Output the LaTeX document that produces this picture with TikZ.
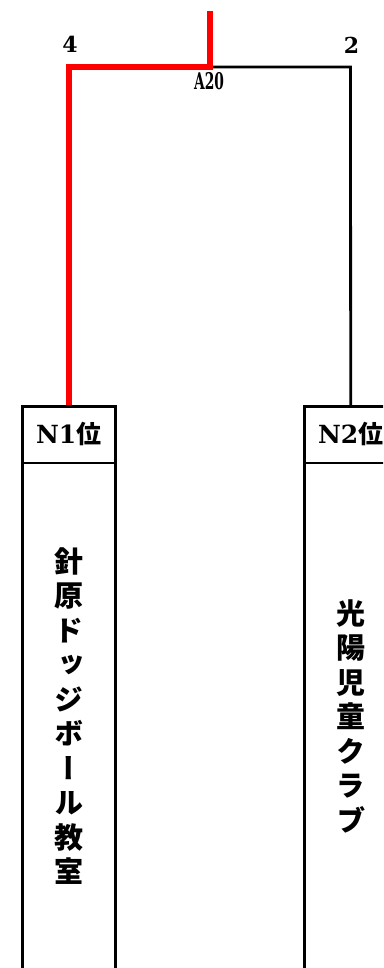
\documentclass[tikz,border=0pt]{standalone}
\usepackage{fontspec}
\setmainfont{DejaVu Serif}
\newfontfamily\cjk{Noto Sans CJK JP}
\newfontfamily\cjkv[RawFeature=+vert]{Noto Sans CJK JP}
\tikzset{
  box/.style={draw=black, line width=3pt, minimum width=92.7pt, minimum height=575pt, inner sep=0pt},
  hdr/.style={minimum width=92.7pt, minimum height=57.3pt, inner sep=0pt, font=\bfseries\fontsize{25}{25}\selectfont},
  divider/.style={line width=1.6pt},
  win/.style={draw=red, line width=6pt},
  lose/.style={draw=black, line width=2.8pt},
  score/.style={inner sep=0pt, font=\bfseries\fontsize{22}{22}\selectfont},
  matchlbl/.style={inner sep=0pt, font=\bfseries\fontsize{23}{23}\selectfont},
  vname/.style={align=center, inner sep=0pt, font=\cjkv\bfseries\fontsize{29}{34.5}\selectfont}
}
\begin{document}
\begin{tikzpicture}[x=1pt,y=-1pt]
\useasboundingbox (0,0) rectangle (383,968);
\clip (0,0) rectangle (383,968);
% teams
\node[box, anchor=north] (b1) at (68.7,405) {};
\node[hdr, anchor=north] (h1) at (b1.north) {N1{\cjk 位}};
\draw[divider] (h1.south west) -- (h1.south east);
\node[vname] (t1) at (68.7,716) {針\\原\\ド\\ッ\\ジ\\ボ\\ー\\ル\\教\\室};
\node[box, anchor=north] (b2) at (350.7,405) {};
\node[hdr, anchor=north] (h2) at (b2.north) {N2{\cjk 位}};
\draw[divider] (h2.south west) -- (h2.south east);
\node[vname] (t2) at (350.7,716) {光\\陽\\児\\童\\ク\\ラ\\ブ};
% bracket
\coordinate (m) at (209.5,67);
\coordinate (top) at (209.5,11);
\coordinate (l) at (68.7,67);
\coordinate (r) at (350.5,67);
\draw[lose] (m) -- (r) -- (b2.north);
\draw[win] (b1.north) -- (l) -- (m) -- (top);
\node[score] (s1) at (70,44) {4};
\node[score] (s2) at (351.5,45) {2};
\node[matchlbl] (a20) at (209,81) {\scalebox{0.6}[1]{A20}};
\end{tikzpicture}
\end{document}
